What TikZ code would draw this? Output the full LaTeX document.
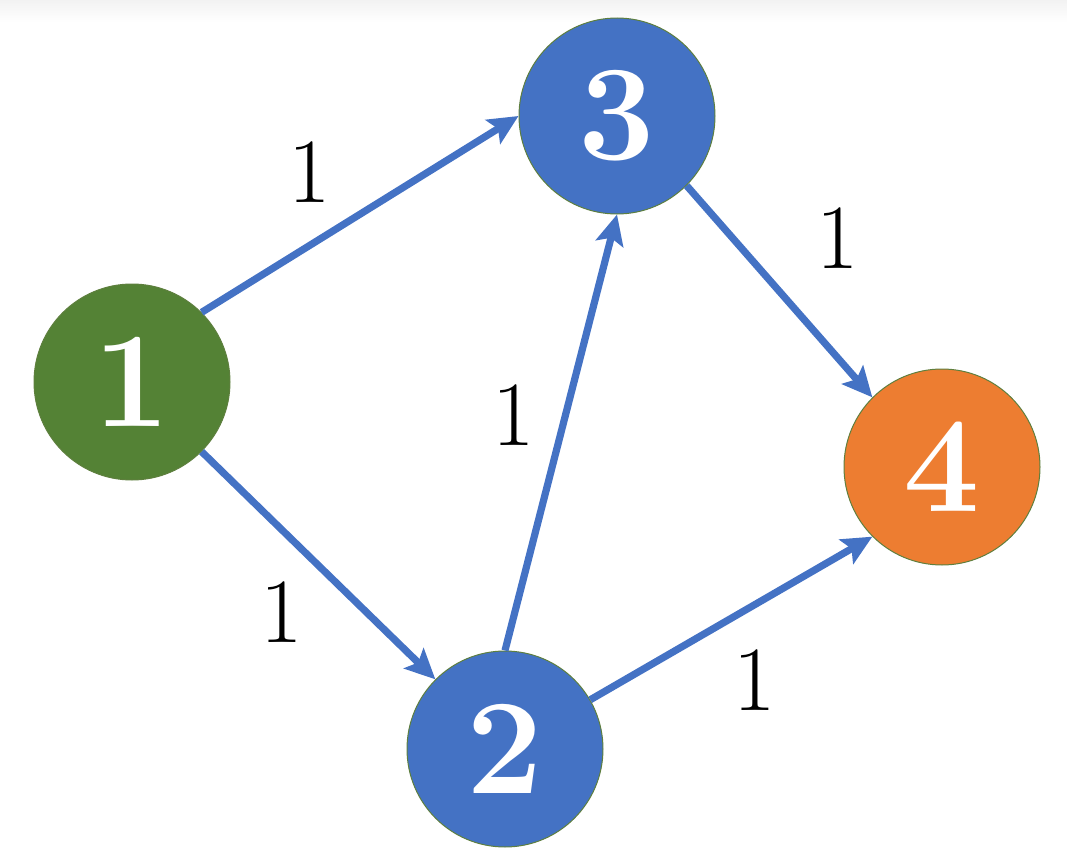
\documentclass[tikz,border=0pt]{standalone}
\usepackage{xcolor}
\usepackage{tikz}
\usetikzlibrary{arrows.meta,positioning,calc}
\definecolor{nodegreen}{HTML}{548235}
\definecolor{nodeblue}{HTML}{4472C4}
\definecolor{nodeorange}{HTML}{ED7D31}
\definecolor{rimgreen}{HTML}{5E7F3E}
\tikzset{
  gvertex/.style={circle,draw=rimgreen,line width=.5pt,inner sep=0pt,minimum size=98pt,
    text=white,font=\fontsize{68}{72}\selectfont\bfseries},
  garrow/.style={-{Stealth[length=15pt,width=14pt,inset=3pt]},line width=3.6pt,draw=nodeblue},
  wlabel/.style={font=\fontsize{46}{50}\selectfont}
}
\begin{document}
\begin{tikzpicture}[x=0.5pt,y=-0.5pt]
  \useasboundingbox (0,0) rectangle (1067,862);
  \shade[top color=black!5,bottom color=white] (0,0) rectangle (1067,22);
  \node[gvertex,fill=nodegreen] (v1) at (132,382) {1};
  \node[gvertex,fill=nodeblue] (v2) at (505,749) {2};
  \node[gvertex,fill=nodeblue] (v3) at (617,116) {3};
  \node[gvertex,fill=nodeorange] (v4) at (942,467) {4};
  \draw[garrow] (v1.45)--(v3.west);
  \draw[garrow] (v1.-45)--(v2.135);
  \draw[garrow] (v2.north)--(v3.south);
  \draw[garrow] (v3.-45)--(v4.135);
  \draw[garrow] (v2.30)--(v4.-135);
  \node[wlabel] (w13) at (310,172) {1};
  \node[wlabel] (w12) at (282,612) {1};
  \node[wlabel] (w23) at (514,415) {1};
  \node[wlabel] (w34) at (838,238) {1};
  \node[wlabel] (w24) at (755,680) {1};
\end{tikzpicture}
\end{document}
